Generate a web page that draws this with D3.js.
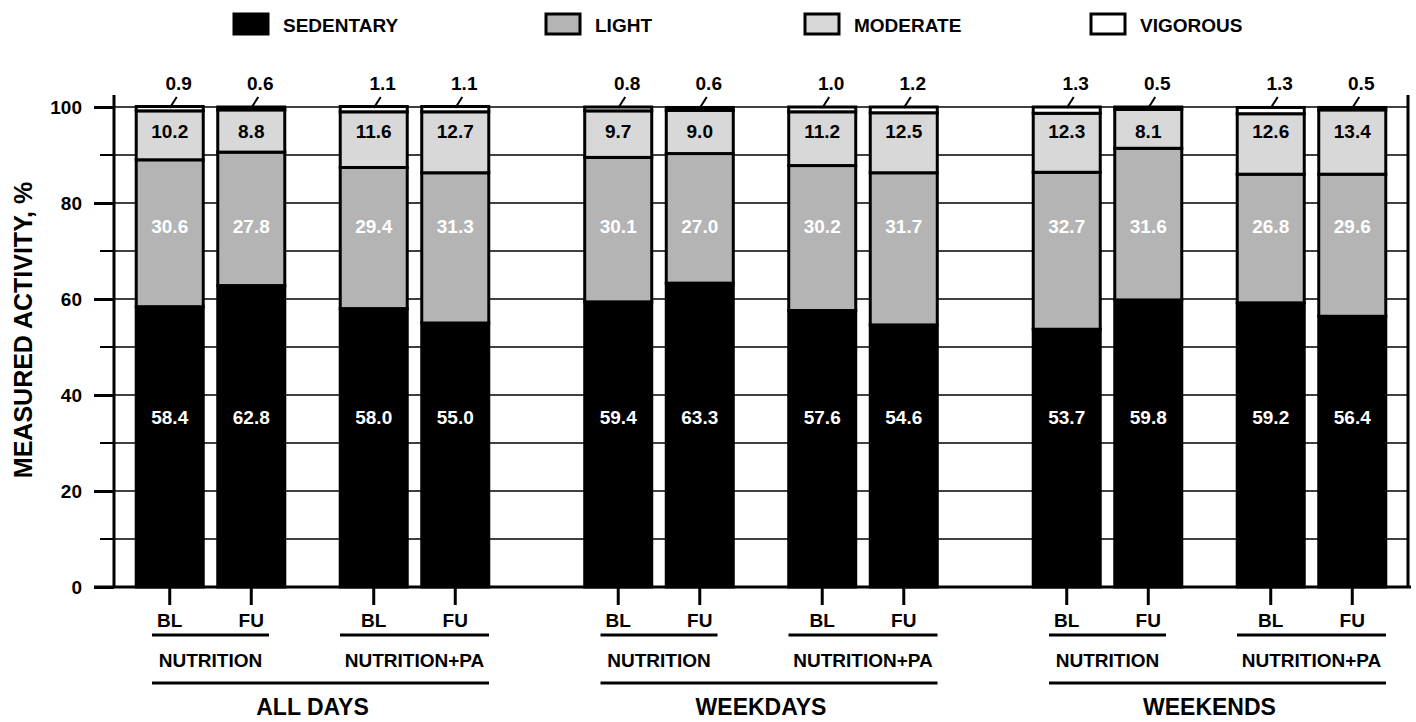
<!DOCTYPE html>
<meta charset="utf-8">
<style type="text/css">
    body { margin: 0; background: white; }
    svg text { font-family: "Liberation Sans", Arial, sans-serif; font-weight: bold; fill: black; }
    svg .white { fill: white }
</style>
<body>
<script src="https://cdn.jsdelivr.net/npm/d3@7"></script>
<script>
    // data
    var groups = ["ALL DAYS", "WEEKDAYS", "WEEKENDS"];
    var subgroups = ["NUTRITION", "NUTRITION+PA"];
    var times = ["BL", "FU"];
    var levels = ["SEDENTARY", "LIGHT", "MODERATE", "VIGOROUS"];

    var sedentary = [58.4, 62.8, 58.0, 55.0, 59.4, 63.3, 57.6, 54.6, 53.7, 59.8, 59.2, 56.4];
    var light     = [30.6, 27.8, 29.4, 31.3, 30.1, 27.0, 30.2, 31.7, 32.7, 31.6, 26.8, 29.6];
    var moderate  = [10.2,  8.8, 11.6, 12.7,  9.7,  9.0, 11.2, 12.5, 12.3,  8.1, 12.6, 13.4];
    var vigorous  = [ 0.9,  0.6,  1.1,  1.1,  0.8,  0.6,  1.0,  1.2,  1.3,  0.5,  1.3,  0.5];
    var yTicks = [0, 20, 40, 60, 80, 100];

    var colors = ["#000000", "#b4b4b4", "#d8d8d8", "#ffffff"];

    var w = 1416, h = 722;

    var svg = d3.select("body").append("svg")
        .attr("width", w)
        .attr("height", h);

    // build table: one row per bar
    var rows = [];
    var i = 0;
    groups.forEach(function(g) {
        subgroups.forEach(function(s) {
            times.forEach(function(t) {
                rows.push({group: g, subName: s, time: t,
                           SEDENTARY: sedentary[i], LIGHT: light[i], MODERATE: moderate[i], VIGOROUS: vigorous[i]});
                i++;
            });
        });
    });

    // scales
    var y = d3.scaleLinear().domain([0, 100]).range([587, 107]);

    var xGroup = d3.scaleBand().domain(groups).range([108.5, 1413.5]).paddingInner(0.0903).paddingOuter(0);
    var xSub = d3.scaleBand().domain(subgroups).range([0, xGroup.bandwidth()]).padding(0);
    var xBar = d3.scaleBand().domain(times).range([0, xSub.bandwidth()]).paddingInner(0.178).paddingOuter(0.34);

    function barX(d) { return xGroup(d.group) + xSub(d.subName) + xBar(d.time); }
    function barCx(d) { return barX(d) + xBar.bandwidth() / 2; }

    var axisLeftX = 114, axisRightX = 1408;

    // gridlines every 10
    svg.append("g").selectAll("line")
        .data(d3.range(10, 101, 10))
        .enter().append("line")
        .attr("x1", axisLeftX).attr("x2", axisRightX)
        .attr("y1", function(d) { return y(d); })
        .attr("y2", function(d) { return y(d); })
        .attr("stroke", "black").attr("stroke-width", 1.6);

    // stacked bars
    var series = d3.stack().keys(levels)(rows);

    svg.append("g").selectAll("g")
        .data(series)
        .enter().append("g")
        .attr("fill", function(d, k) { return colors[k]; })
        .selectAll("rect")
        .data(function(d) { return d; })
        .enter().append("rect")
        .attr("x", function(d) { return barX(d.data); })
        .attr("y", function(d) { return y(d[1]); })
        .attr("width", xBar.bandwidth())
        .attr("height", function(d) { return y(d[0]) - y(d[1]); })
        .attr("stroke", "black")
        .attr("stroke-width", 3);

    // axes
    var yAxis = d3.axisLeft(y).tickValues(yTicks).tickSize(20).tickPadding(12);
    var ga = svg.append("g").attr("transform", "translate(" + axisLeftX + ",0)").call(yAxis);
    ga.select(".domain").remove();
    ga.selectAll(".tick line").attr("stroke-width", 3);
    ga.selectAll(".tick text").attr("font-size", 19).attr("font-family", null);

    // minor ticks
    svg.append("g").selectAll("line")
        .data(d3.range(10, 100, 20))
        .enter().append("line")
        .attr("x1", axisLeftX - 14).attr("x2", axisLeftX)
        .attr("y1", function(d) { return y(d); })
        .attr("y2", function(d) { return y(d); })
        .attr("stroke", "black").attr("stroke-width", 2);

    // frame lines
    svg.append("line").attr("x1", axisLeftX).attr("x2", axisLeftX)
        .attr("y1", y(102.5)).attr("y2", y(0)).attr("stroke", "black").attr("stroke-width", 3);
    svg.append("line").attr("x1", axisRightX).attr("x2", axisRightX)
        .attr("y1", y(102.5)).attr("y2", y(0)).attr("stroke", "black").attr("stroke-width", 3);
    svg.append("line").attr("x1", axisLeftX - 20).attr("x2", axisRightX + 3)
        .attr("y1", y(0)).attr("y2", y(0)).attr("stroke", "black").attr("stroke-width", 3);

    // y label
    svg.append("text")
        .attr("transform", "translate(32,330) rotate(-90)")
        .attr("text-anchor", "middle")
        .attr("font-size", 25)
        .text("MEASURED ACTIVITY, %");

    // value labels
    var labelPos = [35.4, 75.2, 95];
    [sedentary, light, moderate].forEach(function(arr, k) {
        svg.append("g").selectAll("text")
            .data(rows)
            .enter().append("text")
            .attr("class", k < 2 ? "white" : null)
            .attr("x", function(d) { return barCx(d); })
            .attr("y", y(labelPos[k]) + 7)
            .attr("text-anchor", "middle")
            .attr("font-size", 19)
            .text(function(d, j) { return arr[j].toFixed(1); });
    });

    // vigorous labels with leaders
    svg.append("g").selectAll("line")
        .data(rows)
        .enter().append("line")
        .attr("x1", function(d) { return barCx(d); })
        .attr("y1", y(100) + 1)
        .attr("x2", function(d) { return barCx(d) + 7; })
        .attr("y2", y(100) - 10)
        .attr("stroke", "black").attr("stroke-width", 2);
    svg.append("g").selectAll("text")
        .data(rows)
        .enter().append("text")
        .attr("x", function(d) { return barCx(d) + 9; })
        .attr("y", 90)
        .attr("text-anchor", "middle")
        .attr("font-size", 19)
        .text(function(d, j) { return vigorous[j].toFixed(1); });

    // x ticks and BL/FU
    svg.append("g").selectAll("line")
        .data(rows)
        .enter().append("line")
        .attr("x1", barCx).attr("x2", barCx)
        .attr("y1", y(0)).attr("y2", 605)
        .attr("stroke", "black").attr("stroke-width", 3);
    svg.append("g").selectAll("text")
        .data(rows)
        .enter().append("text")
        .attr("x", barCx)
        .attr("y", 627)
        .attr("text-anchor", "middle")
        .attr("font-size", 19)
        .text(function(d) { return d.time; });

    // subgroup labels with underlines
    var subHalf = {"NUTRITION": 58.5, "NUTRITION+PA": 74.5};
    var subs = [];
    groups.forEach(function(g) {
        subgroups.forEach(function(s) {
            subs.push({group: g, sub: s, cx: xGroup(g) + xSub(s) + xSub.bandwidth() / 2});
        });
    });
    svg.append("g").selectAll("line")
        .data(subs)
        .enter().append("line")
        .attr("x1", function(d) { return d.cx - subHalf[d.sub]; })
        .attr("x2", function(d) { return d.cx + subHalf[d.sub]; })
        .attr("y1", 635).attr("y2", 635)
        .attr("stroke", "black").attr("stroke-width", 3);
    svg.append("g").selectAll("text")
        .data(subs)
        .enter().append("text")
        .attr("x", function(d) { return d.cx; })
        .attr("y", 667)
        .attr("text-anchor", "middle")
        .attr("font-size", 19)
        .text(function(d) { return d.sub; });

    // group labels with underlines
    svg.append("g").selectAll("line")
        .data(groups)
        .enter().append("line")
        .attr("x1", function(g) { return xGroup(g) + xSub.bandwidth() / 2 - subHalf[subgroups[0]]; })
        .attr("x2", function(g) { return xGroup(g) + xSub.bandwidth() * 1.5 + subHalf[subgroups[1]]; })
        .attr("y1", 683).attr("y2", 683)
        .attr("stroke", "black").attr("stroke-width", 3);
    svg.append("g").selectAll("text")
        .data(groups)
        .enter().append("text")
        .attr("x", function(g) { return xGroup(g) + xGroup.bandwidth() / 2; })
        .attr("y", 715)
        .attr("text-anchor", "middle")
        .attr("font-size", 23)
        .text(function(g) { return g; });

    // legend
    var legendX = [234, 546, 805, 1091];
    var lg = svg.append("g").selectAll("g")
        .data(levels)
        .enter().append("g")
        .attr("transform", function(d, k) { return "translate(" + legendX[k] + ",14)"; });
    lg.append("rect")
        .attr("width", 34).attr("height", 20)
        .attr("fill", function(d, k) { return colors[k]; })
        .attr("stroke", "black").attr("stroke-width", 3);
    lg.append("text")
        .attr("x", 49).attr("y", 18)
        .attr("font-size", 19)
        .text(function(d) { return d; });
</script>
</body>
